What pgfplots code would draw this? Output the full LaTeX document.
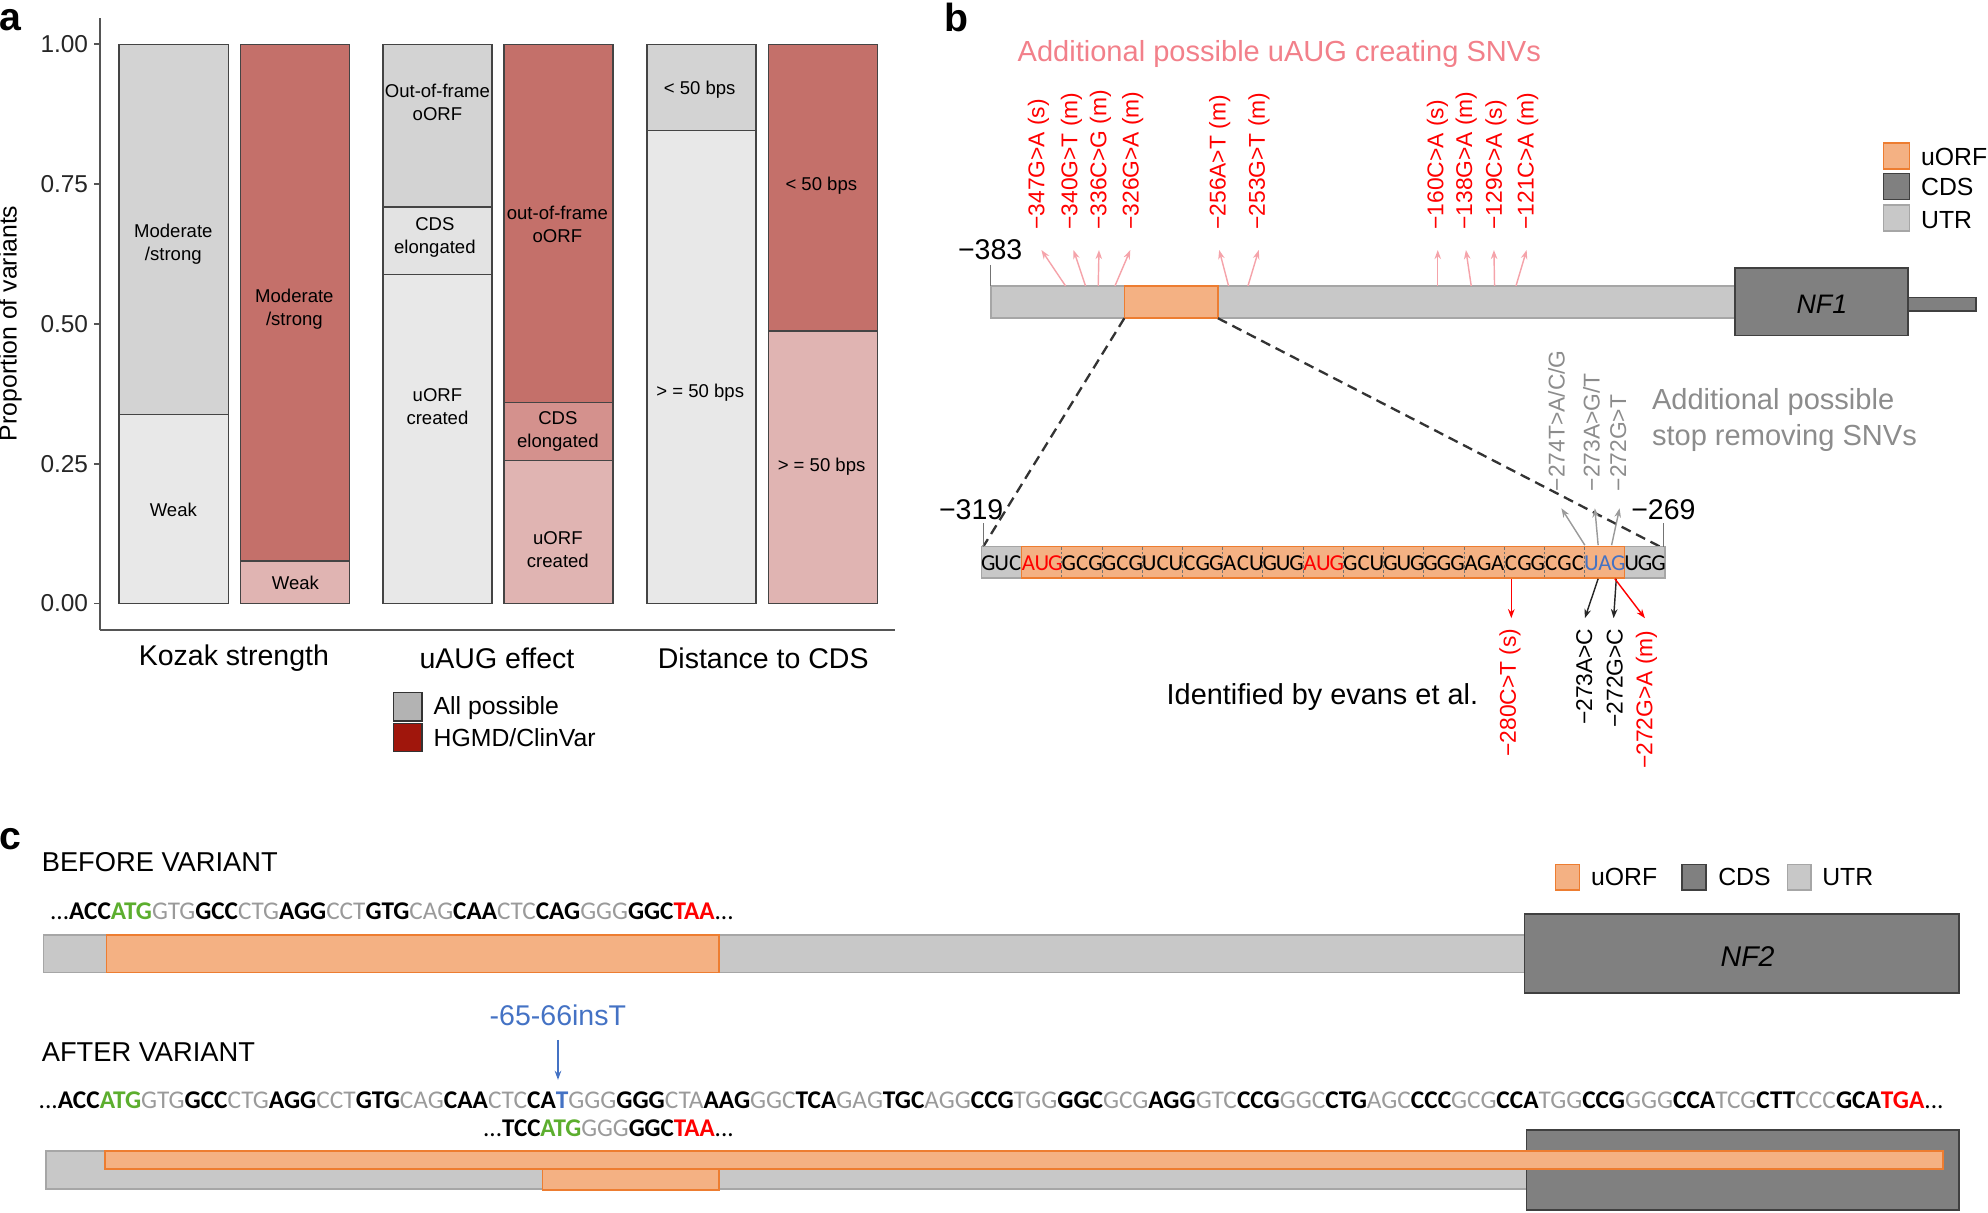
\documentclass[border=0pt]{standalone}
\usepackage{pgfplots}
\pgfplotsset{compat=1.18}
\usepackage{fontspec}
\setmainfont{Liberation Sans}
\newfontfamily\calfont{Carlito}
\usetikzlibrary{arrows.meta}

\definecolor{gtop}{HTML}{D3D3D3}
\definecolor{gmid}{HTML}{E3E3E3}
\definecolor{gbot}{HTML}{E8E8E8}
\definecolor{rtop}{HTML}{C4706A}
\definecolor{rmid}{HTML}{D4918D}
\definecolor{rbot}{HTML}{E0B4B2}
\definecolor{barline}{HTML}{444444}
\definecolor{axgray}{HTML}{555555}
\definecolor{leggray}{HTML}{B3B3B3}
\definecolor{legred}{HTML}{A0160C}
\definecolor{orfill}{HTML}{F4B183}
\definecolor{orline}{HTML}{ED7D31}
\definecolor{utrfill}{HTML}{C8C8C8}
\definecolor{utrline}{HTML}{A6A6A6}
\definecolor{cdsfill}{HTML}{808080}
\definecolor{cdsline}{HTML}{404040}
\definecolor{pinktxt}{HTML}{F2808A}
\definecolor{pinkarr}{HTML}{F5A3AA}
\definecolor{graytxt}{HTML}{8C8C8C}
\definecolor{grayarr}{HTML}{9A9A9A}
\definecolor{seqgray}{HTML}{9A9A9A}
\definecolor{seqgreen}{HTML}{5CAE2E}
\definecolor{seqblue}{HTML}{4472C4}
\definecolor{brightred}{HTML}{FF0000}

\newcommand{\ntw}{2.6425mm}
\def\seqloop#1{\ifx#1\relax\else\makebox[\ntw][c]{#1}\expandafter\seqloop\fi}
\newcommand{\cK}[1]{{\bfseries#1}}
\newcommand{\cG}[1]{\textcolor{seqgray}{#1}}
\newcommand{\cN}[1]{\textcolor{seqgreen}{\bfseries#1}}
\newcommand{\cR}[1]{\textcolor{brightred}{\bfseries#1}}
\newcommand{\cB}[1]{\textcolor{seqblue}{\bfseries#1}}

\newcommand{\fA}{\fontsize{16}{19}\selectfont}
\newcommand{\fB}{\fontsize{13.9}{16.5}\selectfont}
\newcommand{\fS}{\fontsize{10.4}{12.8}\selectfont}
\newcommand{\fR}{\fontsize{12.8}{15}\selectfont}
\newcommand{\fP}{\fontsize{22}{26}\selectfont\bfseries}

\pgfplotsset{bars/.style={ybar, bar width=86, bar shift=0pt, draw=barline, line width=0.8pt}}
\tikzset{
  parr/.style={pinkarr, line width=0.8pt, -{Stealth[length=1.8mm, width=1.3mm]}},
  garr/.style={grayarr, line width=0.8pt, -{Stealth[length=1.8mm, width=1.3mm]}},
  rarr/.style={brightred, line width=0.8pt, -{Stealth[length=1.8mm, width=1.3mm]}},
  karr/.style={black!85, line width=0.8pt, -{Stealth[length=1.8mm, width=1.3mm]}},
  rl/.style={rotate=90, font=\fR, inner sep=0pt},
}

\begin{document}
\begin{tikzpicture}
\useasboundingbox (0,0) rectangle (392mm,239mm);
% ---------------- panel a ----------------
\begin{axis}[
  at={(19.75mm,114.75mm)}, anchor=south west,
  scale only axis, width=156.75mm, height=120.75mm,
  xmin=79, xmax=706, ymin=-0.047619, ymax=1.047619,
  axis x line*=bottom, axis y line*=left,
  axis line style={-, draw=axgray, line width=1pt},
  xtick=\empty,
  ytick={0,0.25,0.5,0.75,1},
  yticklabels={0.00,0.25,0.50,0.75,1.00},
  tick align=outside, major tick length=1.15mm,
  tick style={draw=axgray, line width=1pt},
  yticklabel style={font=\fontsize{13.7}{16}\selectfont, text=black!85},
  clip=false,
]
\addplot[bars, fill=gtop] coordinates {(137,1) (345,1) (553.4,1)};
\addplot[bars, fill=gmid] coordinates {(345,0.709)};
\addplot[bars, fill=gbot] coordinates {(137,0.338) (345,0.588) (553.4,0.846)};
\addplot[bars, fill=rtop] coordinates {(232.7,1) (440.5,1) (649.2,1)};
\addplot[bars, fill=rmid] coordinates {(440.5,0.359)};
\addplot[bars, fill=rbot] coordinates {(232.7,0.076) (440.5,0.256) (649.2,0.487)};
\end{axis}
% ---------------- overlay (px coordinates of the 1568x956 picture) ----------------
\begin{axis}[
  at={(0,0)}, anchor=south west, scale only axis, width=392mm, height=239mm,
  xmin=0, xmax=1568, ymin=0, ymax=956, y dir=reverse, hide axis, clip=false,
]
% panel letters
\node[font=\fP, inner sep=0] at (8.5,15.5) {a};
\node[font=\fP, inner sep=0] at (754,14) {b};
\node[font=\fP, inner sep=0] at (8,662) {c};

% ----- panel a texts -----
\node[rotate=90, font=\fB] at (8,255) {Proportion of variants};
\node[font=\fA] at (184.5,519) {Kozak strength};
\node[font=\fA] at (392,519) {uAUG effect};
\node[font=\fA] at (602,519) {Distance to CDS};
\draw[fill=leggray, draw=black!80, line width=0.8pt] (310.5,546) rectangle (332.7,568.6);
\draw[fill=legred, draw=black!80, line width=0.8pt] (310.5,570.6) rectangle (332.7,592.8);
\node[font=\fB, anchor=west, inner sep=0] at (341.8,558.3) {All possible};
\node[font=\fB, anchor=west, inner sep=0] at (341.8,582) {HGMD/ClinVar};

\node[font=\fS, align=center] at (136.7,192.4) {Moderate\\/strong};
\node[font=\fS] at (136.7,402.2) {Weak};
\node[font=\fS, align=center] at (232.2,244) {Moderate\\/strong};
\node[font=\fS] at (233,459.6) {Weak};
\node[font=\fS, align=center] at (345,81) {Out-of-frame\\oORF};
\node[font=\fS, align=center] at (343,187) {CDS\\elongated};
\node[font=\fS, align=center] at (345,320.8) {uORF\\created};
\node[font=\fS, align=center] at (439.6,176.9) {out-of-frame\\oORF};
\node[font=\fS, align=center] at (440,340.5) {CDS\\elongated};
\node[font=\fS, align=center] at (440,433.4) {uORF\\created};
\node[font=\fS] at (551.8,71) {< 50 bps};
\node[font=\fS] at (552.3,310) {> = 50 bps};
\node[font=\fS] at (647.8,146.3) {< 50 bps};
\node[font=\fS] at (648,367.8) {> = 50 bps};

% ----- panel b -----
\node[font=\fontsize{16.3}{19}\selectfont, text=pinktxt] at (1009,42.5) {Additional possible uAUG creating SNVs};
% NF1 gene model
\draw[fill=utrfill, draw=utrline, line width=0.9pt] (781.4,225.5) rectangle (1368.6,251);
\draw[fill=orfill, draw=orline, line width=0.9pt] (886.8,225.5) rectangle (960.6,251);
\draw[fill=cdsfill, draw=cdsline, line width=0.9pt] (1505.1,234.8) rectangle (1558.4,245.3);
\draw[fill=cdsfill, draw=cdsline, line width=0.9pt] (1368.6,211.6) rectangle (1505.1,264.7);
\node[font=\fontsize{15}{18}\selectfont\itshape] at (1437,239.7) {NF1};
\draw[black!55, line width=0.8pt] (781.4,209) -- (781.4,225.5);
\node[font=\fA] at (781,197) {−383};
% upper arrows and labels
\draw[parr] (840.4,225.5) -- (821.4,197.2);
\draw[parr] (856.2,225.5) -- (846.7,197.2);
\draw[parr] (866.2,225.5) -- (866.8,197.2);
\draw[parr] (879.4,225.5) -- (891.5,197.2);
\draw[parr] (969.0,225.5) -- (961.6,197.2);
\draw[parr] (984.3,225.5) -- (992.8,197.2);
\draw[parr] (1134.0,225.5) -- (1134.0,197.2);
\draw[parr] (1160.4,225.5) -- (1156.2,197.2);
\draw[parr] (1178.8,225.5) -- (1178.3,197.2);
\draw[parr] (1195.7,225.5) -- (1204.1,197.2);
\node[rl, anchor=west, text=brightred] at (819,181.4) {−347G>A (s)};
\node[rl, anchor=west, text=brightred] at (845,181.4) {−340G>T (m)};
\node[rl, anchor=west, text=brightred] at (868,181.4) {−336C>G (m)};
\node[rl, anchor=west, text=brightred] at (893.4,181.4) {−326G>A (m)};
\node[rl, anchor=west, text=brightred] at (962,181.4) {−256A>T (m)};
\node[rl, anchor=west, text=brightred] at (993,181.4) {−253G>T (m)};
\node[rl, anchor=west, text=brightred] at (1133.8,181.4) {−160C>A (s)};
\node[rl, anchor=west, text=brightred] at (1156.5,181.4) {−138G>A (m)};
\node[rl, anchor=west, text=brightred] at (1180,181.4) {−129C>A (s)};
\node[rl, anchor=west, text=brightred] at (1205,181.4) {−121C>A (m)};
% legend b
\draw[fill=orfill, draw=orline, line width=0.9pt] (1485.6,113) rectangle (1506.2,133.5);
\draw[fill=cdsfill, draw=cdsline, line width=0.9pt] (1485.6,136.7) rectangle (1506.2,157.2);
\draw[fill=utrfill, draw=utrline, line width=0.9pt] (1485.6,161.7) rectangle (1506.2,182);
\node[font=\fB, anchor=west, inner sep=0] at (1515,123.6) {uORF};
\node[font=\fB, anchor=west, inner sep=0] at (1515,147.2) {CDS};
\node[font=\fB, anchor=west, inner sep=0] at (1515,173.5) {UTR};
% zoom lines
\draw[black!80, line width=1.3pt, dash pattern=on 2mm off 1.2mm] (886.8,251) -- (775.6,431);
\draw[black!80, line width=1.3pt, dash pattern=on 2mm off 1.2mm] (960.6,251) -- (1311,432);
% sequence bar
\draw[fill=utrfill, draw=utrline, line width=0.9pt] (774,431.1) rectangle (1313.2,456.1);
\draw[fill=orfill, draw=orline, line width=0.9pt] (805.7,431.1) rectangle (1281.4,456.1);
\pgfplotsinvokeforeach{6,9,...,45}{
  \draw[black!55, line width=0.4pt, dash pattern=on 0.5mm off 0.4mm] ({774+10.5725*#1},431.6) -- ({774+10.5725*#1},455.6);
}
\node[anchor=base west, inner sep=0, font=\calfont\fontsize{12.8}{15}\selectfont] at (774,450.3)
  {\seqloop GUC\relax\textcolor{brightred}{\seqloop AUG\relax}\seqloop GCGGCGUCUCGGACUGUG\relax\textcolor{brightred}{\seqloop AUG\relax}\seqloop GCUGUGGGGAGACGGCGC\relax\textcolor{seqblue}{\seqloop UAG\relax}\seqloop UGG\relax};
\draw[black!55, line width=0.8pt] (775.6,412.7) -- (775.6,431.1);
\draw[black!55, line width=0.8pt] (1312.2,412.7) -- (1312.2,431.1);
\node[font=\fA] at (766,402) {−319};
\node[font=\fA] at (1312,402) {−269};
% stop-removing arrows (gray)
\draw[garr] (1250,430) -- (1231.5,400.9);
\draw[garr] (1260.5,430) -- (1257.9,400.9);
\draw[garr] (1271.1,430) -- (1277.4,400.9);
\node[rl, anchor=west, text=graytxt] at (1227.6,387.7) {−274T>A/C/G};
\node[rl, anchor=west, text=graytxt] at (1255.3,387.7) {−273A>G/T};
\node[rl, anchor=west, text=graytxt] at (1276.4,387.7) {−272G>T};
\node[font=\fontsize{16.3}{19}\selectfont, text=graytxt, anchor=west, inner sep=0] at (1302.7,316.8) {Additional possible};
\node[font=\fontsize{16.3}{19}\selectfont, text=graytxt, anchor=west, inner sep=0] at (1302.7,345.7) {stop removing SNVs};
% identified variants
\draw[rarr] (1192,456.5) -- (1192,487.6);
\draw[karr] (1260.5,456.5) -- (1250,487.6);
\draw[karr] (1274.8,456.5) -- (1272.7,487.6);
\draw[rarr] (1273.7,456.5) -- (1297.4,487.6);
\node[rl, anchor=east, text=brightred] at (1191,495.5) {−280C>T (s)};
\node[rl, anchor=east, text=black] at (1249.5,495.5) {−273A>C};
\node[rl, anchor=east, text=black] at (1273.7,495.5) {−272G>C};
\node[rl, anchor=east, text=brightred] at (1298.7,497) {−272G>A (m)};
\node[font=\fontsize{16.2}{19}\selectfont] at (1043,549.4) {Identified by evans et al.};

% ----- panel c -----
\node[font=\fontsize{15.3}{18}\selectfont, anchor=base west, inner sep=0] at (32.7,687.5) {BEFORE VARIANT};
\node[font=\fontsize{15.3}{18}\selectfont, anchor=base west, inner sep=0] at (32.7,837.3) {AFTER VARIANT};
% legend c
\draw[fill=orfill, draw=orline, line width=0.9pt] (1226.9,681.7) rectangle (1245.7,701.9);
\draw[fill=cdsfill, draw=cdsline, line width=0.9pt] (1326.7,681.7) rectangle (1345.6,701.9);
\draw[fill=utrfill, draw=utrline, line width=0.9pt] (1409.7,681.7) rectangle (1428.6,701.9);
\node[font=\fB, anchor=west, inner sep=0] at (1254.7,691.4) {uORF};
\node[font=\fB, anchor=west, inner sep=0] at (1355,691.4) {CDS};
\node[font=\fB, anchor=west, inner sep=0] at (1437,691.4) {UTR};
% before
\node[anchor=base west, inner sep=0, font=\calfont\fontsize{14.6}{17}\selectfont] at (39.2,725.6)
  {\resizebox{134.8mm}{3.3mm}{...\cK{ACC}\cN{ATG}\cG{GTG}\cK{GCC}\cG{CTG}\cK{AGG}\cG{CCT}\cK{GTG}\cG{CAG}\cK{CAA}\cG{CTC}\cK{CAG}\cG{GGG}\cK{GGC}\cR{TAA}...}};
\draw[fill=utrfill, draw=utrline, line width=0.9pt] (34.2,737.4) rectangle (1202.5,767.1);
\draw[fill=orfill, draw=orline, line width=0.9pt] (84,737.4) rectangle (566.9,767.1);
\draw[fill=cdsfill, draw=cdsline, line width=0.9pt] (1202.5,720.8) rectangle (1544.9,783.4);
\node[font=\fontsize{16}{19}\selectfont\itshape] at (1378.4,754.5) {NF2};
% variant
\node[font=\fontsize{16}{19}\selectfont, text=seqblue] at (440,800.5) {-65-66insT};
\draw[seqblue, line width=0.9pt, -{Stealth[length=1.8mm, width=1.3mm]}] (440.1,820.2) -- (440.1,851.7);
% after
\node[anchor=base west, inner sep=0, font=\calfont\fontsize{14.6}{17}\selectfont] at (30.2,874.1)
  {\resizebox{375.6mm}{3.3mm}{...\cK{ACC}\cN{ATG}\cG{GTG}\cK{GCC}\cG{CTG}\cK{AGG}\cG{CCT}\cK{GTG}\cG{CAG}\cK{CAA}\cG{CTC}\cK{CA}\cB{T}\cG{GGG}\cK{GGG}\cG{CTA}\cK{AAG}\cG{GGC}\cK{TCA}\cG{GAG}\cK{TGC}\cG{AGG}\cK{CCG}\cG{TGG}\cK{GGC}\cG{GCG}\cK{AGG}\cG{GTC}\cK{CCG}\cG{GGC}\cK{CTG}\cG{AGC}\cK{CCC}\cG{GCG}\cK{CCA}\cG{TGG}\cK{CCG}\cG{GGG}\cK{CCA}\cG{TCG}\cK{CTT}\cG{CCC}\cK{GCA}\cR{TGA}...}};
\node[anchor=base west, inner sep=0, font=\calfont\fontsize{14.6}{17}\selectfont] at (380.8,896.4)
  {\resizebox{49.4mm}{3.3mm}{...\cK{TCC}\cN{ATG}\cG{GGG}\cK{GGC}\cR{TAA}...}};
\draw[fill=utrfill, draw=utrline, line width=0.9pt] (36.2,907.7) rectangle (1204,938);
\draw[fill=orfill, draw=orline, line width=0.9pt] (428,922) rectangle (566.9,938.5);
\draw[fill=cdsfill, draw=cdsline, line width=0.9pt] (1204,891.2) rectangle (1545,954.3);
\draw[fill=orfill, draw=orline, line width=0.9pt] (83,907.7) rectangle (1532.5,922);
\end{axis}
\end{tikzpicture}
\end{document}
